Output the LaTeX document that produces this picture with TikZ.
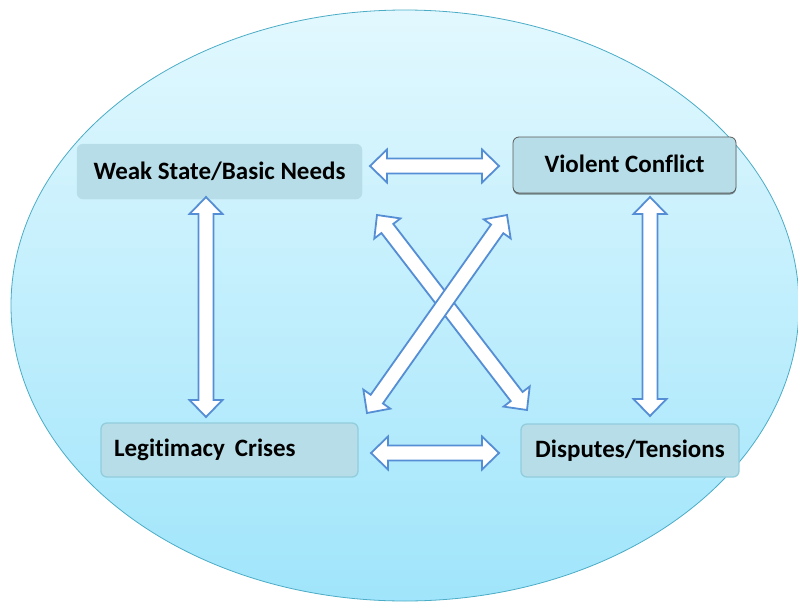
\documentclass[tikz,border=0pt]{standalone}
\usepackage{fontspec}
\setmainfont{Carlito}[Ligatures={NoCommon}]
\usetikzlibrary{calc,shadows}
\definecolor{boxfill}{RGB}{183,222,232}
\definecolor{boxline}{RGB}{146,205,220}
\definecolor{arrline}{RGB}{85,142,213}
\definecolor{elltop}{RGB}{226,248,254}
\definecolor{ellbot}{RGB}{160,229,251}
\definecolor{ellline}{RGB}{75,172,198}
\newcommand{\arrhead}{17pt}
\newcommand{\arrhalf}{16.5pt}
\newcommand{\arrshaft}{7.5pt}
\newcommand{\blockarrow}[2]{%
  \draw[barrow] let \p1=(#1), \p2=(#2), \n1={atan2(\y2-\y1,\x2-\x1)} in
    (\p1)
    -- ($(\p1)+(\n1:\arrhead)+(\n1+90:\arrhalf)$)
    -- ($(\p1)+(\n1:\arrhead)+(\n1+90:\arrshaft)$)
    -- ($(\p2)+(\n1+180:\arrhead)+(\n1+90:\arrshaft)$)
    -- ($(\p2)+(\n1+180:\arrhead)+(\n1+90:\arrhalf)$)
    -- (\p2)
    -- ($(\p2)+(\n1+180:\arrhead)+(\n1-90:\arrhalf)$)
    -- ($(\p2)+(\n1+180:\arrhead)+(\n1-90:\arrshaft)$)
    -- ($(\p1)+(\n1:\arrhead)+(\n1-90:\arrshaft)$)
    -- ($(\p1)+(\n1:\arrhead)+(\n1-90:\arrhalf)$)
    -- cycle;}
\tikzset{
  box/.style={rounded corners=6pt, fill=boxfill, font=\fontsize{25}{30}\selectfont\bfseries, inner sep=0pt},
  plainbox/.style={box, draw=boxfill},
  lightbox/.style={box, draw=boxline, line width=1.3pt},
  darkbox/.style={box, draw={rgb,255:red,90;green,90;blue,90}, line width=0.8pt,
    drop shadow={shadow xshift=0pt, shadow yshift=-1.5pt, fill=black, opacity=0.45}},
  barrow/.style={draw=arrline, fill=white, line width=1.8pt, line join=miter}
}
\begin{document}
\begin{tikzpicture}[x=1pt,y=-1pt]
\useasboundingbox (0,0) rectangle (798,603);
\shade[top color=elltop, bottom color=ellbot, draw=ellline, line width=0.8pt]
  (405,305.5) ellipse [x radius=394pt, y radius=295.5pt];

\node[plainbox, minimum width=285pt, minimum height=55pt] (ws) at (219.5,171.5) {Weak State/Basic Needs};
\node[darkbox, minimum width=223pt, minimum height=56pt] (vc) at (624.5,165) {\raisebox{3pt}{Violent Conflict}};
\node[lightbox, minimum width=257pt, minimum height=54pt, text width=231pt, align=left, inner xsep=13pt] (lc) at (229.5,450) {Legitimacy\hspace{0.4em}Crises};
\node[lightbox, minimum width=218pt, minimum height=53pt] (dt) at (630,450.5) {Disputes/Tensions};

\coordinate (th1) at (370,166);
\coordinate (th2) at (499,166);
\coordinate (bh1) at (371,453);
\coordinate (bh2) at (499,453);
\coordinate (lv1) at (206,197);
\coordinate (lv2) at (206,417);
\coordinate (rv1) at (650,197);
\coordinate (rv2) at (650,416);
\coordinate (d11) at (377,215);
\coordinate (d12) at (527,410);
\coordinate (d21) at (367,413);
\coordinate (d22) at (507,215);

\blockarrow{th1}{th2}
\blockarrow{bh1}{bh2}
\blockarrow{lv1}{lv2}
\blockarrow{rv1}{rv2}
\blockarrow{d11}{d12}
\blockarrow{d21}{d22}
\end{tikzpicture}
\end{document}
